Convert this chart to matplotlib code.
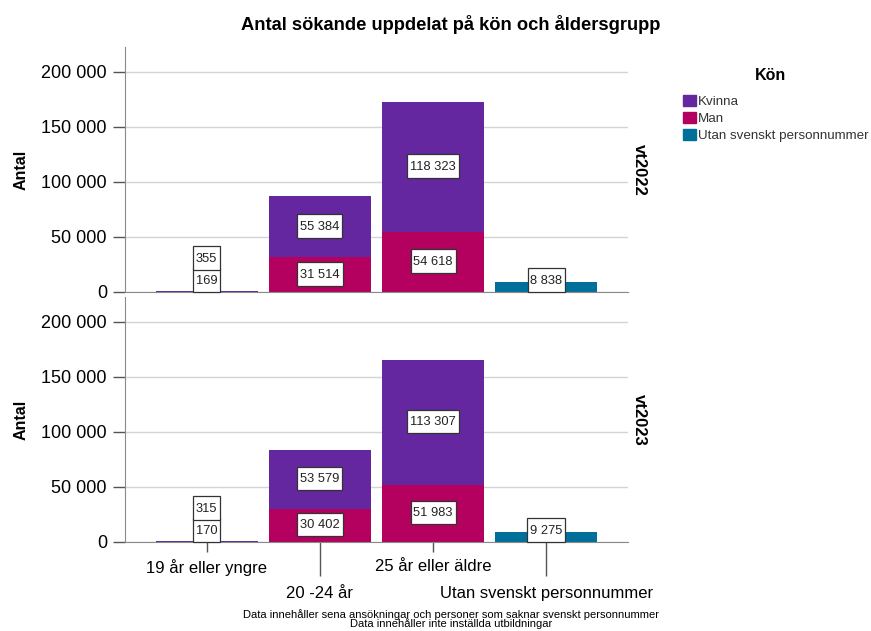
import numpy as np
import matplotlib
matplotlib.use("Agg")
import matplotlib.pyplot as plt
from matplotlib.patches import Patch
from matplotlib.path import Path
from matplotlib.ticker import FuncFormatter

plt.rcParams['font.family'] = ['Liberation Sans', 'DejaVu Sans']

# data
groups = ["19 år eller yngre", "20 -24 år", "25 år eller äldre", "Utan svenskt personnummer"]
terms = ["vt2022", "vt2023"]
man = {"vt2022": [169, 31514, 54618, 0],
       "vt2023": [170, 30402, 51983, 0]}
kvinna = {"vt2022": [355, 55384, 118323, 0],
          "vt2023": [315, 53579, 113307, 0]}
utan = {"vt2022": [0, 0, 0, 8838],
        "vt2023": [0, 0, 0, 9275]}

series_names = ["Kvinna", "Man", "Utan svenskt personnummer"]
colors = {"Kvinna": "#65279f", "Man": "#b4005e", "Utan svenskt personnummer": "#00709b"}

title = "Antal sökande uppdelat på kön och åldersgrupp"
footer = ("Data innehåller sena ansökningar och personer som saknar svenskt personnummer\n"
          "Data innehåller inte inställda utbildningar")


def fmt(v):
    return f"{int(v):,}".replace(",", " ")


# label box: small side padding, taller top/bottom
PADX, PADT, PADB = 0.22, 0.5, 0.38


def label_box(x0, y0, width, height, mutation_size):
    x0 -= PADX * mutation_size
    x1 = x0 + width + 2 * PADX * mutation_size
    y1 = y0 + height + PADT * mutation_size
    y0 -= PADB * mutation_size
    return Path([(x0, y0), (x1, y0), (x1, y1), (x0, y1), (x0, y0)], closed=True)


W, H = 871, 631
fig = plt.figure(figsize=(W / 100, H / 100), dpi=100)

left, right = 125 / W, 628 / W
panels = [(47, 292), (297, 542)]
ymax = 222700
half_box = 10400  # half label box height in data units
lab_fs = 9.3
box_h = 7.4 + (PADT + PADB) * lab_fs  # approx box height in points

x = np.arange(len(groups))
axes = []
for term, (top_px, bot_px) in zip(terms, panels):
    ax = fig.add_axes([left, 1 - bot_px / H, right - left, (bot_px - top_px) / H])
    axes.append(ax)
    m = np.array(man[term])
    k = np.array(kvinna[term])
    u = np.array(utan[term])
    ax.bar(x, m, width=0.9, color=colors["Man"], linewidth=0, zorder=2)
    ax.bar(x, k, width=0.9, bottom=m, color=colors["Kvinna"], linewidth=0, zorder=2)
    ax.bar(x, u, width=0.9, bottom=m + k, color=colors["Utan svenskt personnummer"],
           linewidth=0, zorder=2)

    box = dict(boxstyle=label_box, fc="white", ec="#333333", lw=0.9)
    for i in range(len(groups)):
        base = 0
        stacked = 0
        for vals in (m, k, u):
            v = vals[i]
            if v <= 0:
                continue
            if v / 2 < half_box:
                ax.annotate(fmt(v), xy=(x[i], base),
                            xytext=(0, PADB * lab_fs + 0.3 + stacked * box_h),
                            textcoords="offset points", ha="center", va="bottom",
                            fontsize=lab_fs, color="#222222", bbox=box, zorder=4)
                stacked += 1
            else:
                ax.text(x[i], base + v / 2, fmt(v), ha="center", va="center",
                        fontsize=lab_fs, color="#222222", bbox=box, zorder=4)
            base += v

    ax.set_xlim(-0.72, 3.72)
    ax.set_ylim(0, ymax)
    ax.set_yticks([0, 50000, 100000, 150000, 200000])
    ax.yaxis.set_major_formatter(FuncFormatter(lambda v, p: fmt(v)))
    ax.tick_params(axis="y", length=9, width=1, color="#555555", labelsize=13, pad=4)
    ax.grid(axis="y", color="#d4d4d4", linewidth=1, zorder=0)
    ax.set_axisbelow(True)
    for s in ("top", "right"):
        ax.spines[s].set_visible(False)
    ax.spines["left"].set_color("#8a8a8a")
    ax.spines["bottom"].set_color("#8a8a8a")
    ax.set_ylabel("Antal", fontsize=11.5, fontweight="bold")
    ax.yaxis.set_label_coords(-0.192, 0.5)
    ax.text(1.022, 0.5, term, transform=ax.transAxes, rotation=270, ha="center",
            va="center", fontsize=12, fontweight="bold")

# x ticks only on lower panel, staggered labels
axes[0].set_xticks([])
ax = axes[1]
ax.set_xticks(x[0::2])
ax.set_xticklabels(groups[0::2])
ax.set_xticks(x[1::2], minor=True)
ax.set_xticklabels(groups[1::2], minor=True)
ax.tick_params(axis="x", which="major", length=7.5, width=1, color="#555555",
               labelsize=12, pad=5)
ax.tick_params(axis="x", which="minor", length=24.5, width=1, color="#555555",
               labelsize=12, pad=7)

fig.text(0.518, 1 - 25 / H, title, ha="center", va="center", fontsize=13.2,
         fontweight="bold")
fig.text(0.518, 1 - 619 / H, footer, ha="center", va="center", fontsize=8.0,
         linespacing=0.86)

fig.text(770 / W, 1 - 75 / H, "Kön", ha="center", va="center", fontsize=11.5,
         fontweight="bold")
handles = [Patch(color=colors[n]) for n in series_names]
leg = fig.legend(handles, series_names, loc="upper left",
                 bbox_to_anchor=(678 / W, 1 - 90 / H), frameon=False,
                 fontsize=9.6, handlelength=0.95, handleheight=0.85,
                 handletextpad=0.15, labelspacing=0.3, borderaxespad=0)
for t in leg.get_texts():
    t.set_color("#333333")

fig.savefig("out.png", dpi=100)
